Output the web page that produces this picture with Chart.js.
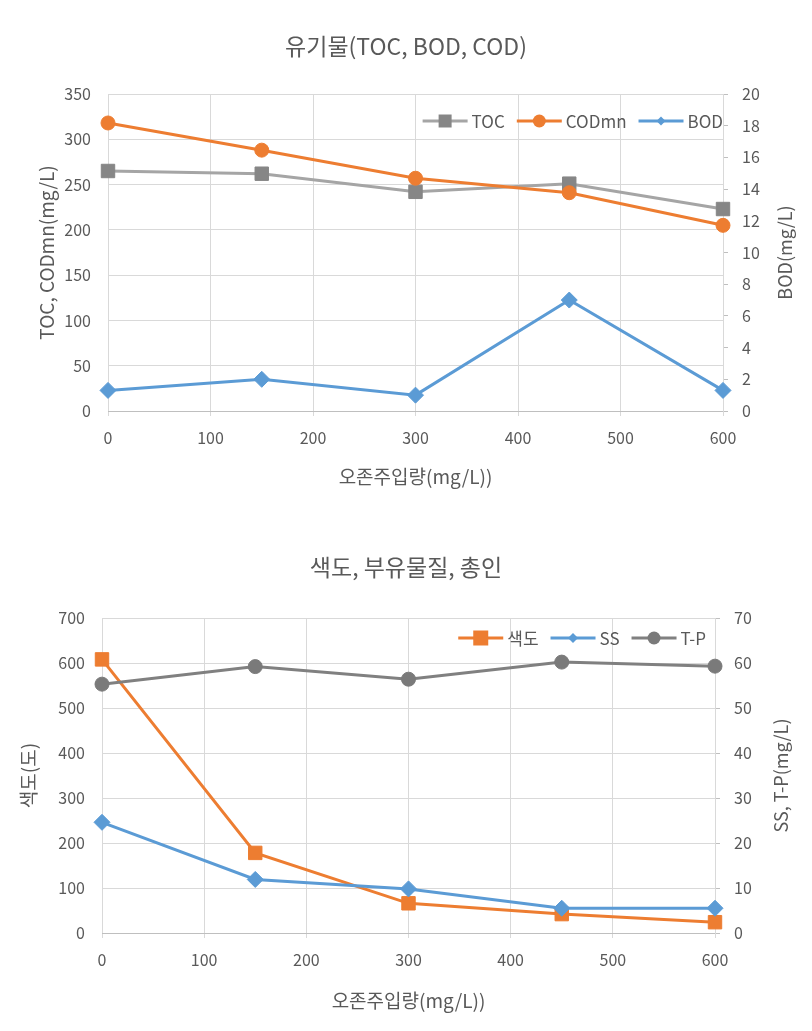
<!DOCTYPE html>
<html>
<head>
<meta charset="utf-8">
<script src="https://cdn.jsdelivr.net/npm/chart.js@4"></script>
<style>
  body { margin: 0; background: #fff; }
  .box { position: relative; width: 812px; }
</style>
</head>
<body>
<div class="box" style="height:515px"><canvas id="organic"></canvas></div>
<div class="box" style="height:516px"><canvas id="colour"></canvas></div>
<script>
// ozone dose on the x axis, shared by both charts
const doses = [0, 150, 300, 450, 600];

// top chart: 유기물
const tocValues = [265, 262, 242, 251, 223];
const codValues = [318, 288, 257, 241, 205];
const bodValues = [1.3, 2.0, 1.0, 7.0, 1.3];

// bottom chart: 색도, 부유물질, 총인
const colourValues = [608, 178, 66, 42, 24];
const ssValues = [24.6, 11.9, 9.8, 5.5, 5.5];
const tpValues = [55.3, 59.2, 56.4, 60.2, 59.3];

const FONT = "'Noto Sans CJK KR', 'Noto Sans', sans-serif";
const TEXT = '#595959';
const GRID = '#d9d9d9';
const ORANGE = '#ed7d31';
const BLUE = '#5b9bd5';

Chart.defaults.font.family = FONT;
Chart.defaults.color = TEXT;
Chart.defaults.animation = false;

function points(values) {
  return doses.map((x, i) => ({ x: x, y: values[i] }));
}

function marker(ctx, style, size, x, y) {
  ctx.beginPath();
  if (style === 'rect') {
    ctx.rect(x - size / 2, y - size / 2, size, size);
  } else if (style === 'rectRot') {
    ctx.moveTo(x - size, y);
    ctx.lineTo(x, y - size);
    ctx.lineTo(x + size, y);
    ctx.lineTo(x, y + size);
    ctx.closePath();
  } else {
    ctx.arc(x, y, size, 0, Math.PI * 2);
  }
  ctx.fill();
}

// legend inside the plot area, line with marker like the spreadsheet one
const lineLegend = {
  id: 'lineLegend',
  afterDraw(chart, args, opts) {
    const ctx = chart.ctx;
    const sets = chart.data.datasets;
    const seg = 45, gap = 4, spacing = opts.spacing;
    ctx.save();
    ctx.font = opts.size + 'px ' + FONT;
    const widths = sets.map(ds => seg + gap + ctx.measureText(ds.label).width);
    let x = opts.right - widths.reduce((a, b) => a + b, 0) - spacing * (sets.length - 1);
    const y = opts.y;
    sets.forEach((ds, i) => {
      ctx.strokeStyle = ds.borderColor;
      ctx.lineWidth = 3;
      ctx.beginPath();
      ctx.moveTo(x, y);
      ctx.lineTo(x + seg, y);
      ctx.stroke();
      ctx.fillStyle = ds.pointBackgroundColor;
      marker(ctx, ds.pointStyle, opts.markers[i], x + seg / 2, y);
      ctx.fillStyle = TEXT;
      ctx.textAlign = 'left';
      ctx.textBaseline = 'middle';
      ctx.fillText(ds.label, x + seg + gap, y + 1);
      x += widths[i] + spacing;
    });
    ctx.restore();
  }
};

// secondary axis title, reads bottom to top like the left one
const rightTitle = {
  id: 'rightTitle',
  afterDraw(chart, args, opts) {
    const { ctx, chartArea } = chart;
    ctx.save();
    ctx.translate(opts.x, (chartArea.top + chartArea.bottom) / 2);
    ctx.rotate(-Math.PI / 2);
    ctx.font = opts.size + 'px ' + FONT;
    ctx.fillStyle = TEXT;
    ctx.textAlign = 'center';
    ctx.textBaseline = 'middle';
    ctx.fillText(opts.text, 0, 0);
    ctx.restore();
  }
};

function makeChart(id, cfg) {
  return new Chart(document.getElementById(id), {
    type: 'line',
    data: { datasets: cfg.datasets },
    plugins: [lineLegend, rightTitle],
    options: {
      responsive: true,
      maintainAspectRatio: false,
      layout: { padding: 0 },
      plugins: {
        legend: { display: false },
        tooltip: { enabled: false },
        title: {
          display: true,
          text: cfg.title,
          color: TEXT,
          font: { size: 23, weight: 'normal' },
          padding: cfg.titlePadding
        },
        lineLegend: cfg.legend,
        rightTitle: cfg.rightTitle
      },
      scales: {
        x: {
          type: 'linear',
          min: 0,
          max: 600,
          ticks: { stepSize: 100, font: { size: 16 }, padding: 12 },
          grid: { color: GRID, tickLength: 5 },
          border: { color: '#bfbfbf' },
          title: {
            display: true,
            text: '오존주입량(mg/L))',
            font: { size: 19 },
            padding: { top: 0, bottom: cfg.xTitlePad }
          },
          afterFit(s) { s.height = cfg.xHeight; }
        },
        y: {
          position: 'left',
          min: 0,
          max: cfg.yMax,
          ticks: { stepSize: cfg.yStep, font: { size: 16 }, padding: 17 },
          grid: { color: GRID, drawTicks: false },
          border: { display: false },
          title: {
            display: true,
            text: cfg.yTitle,
            font: { size: 19 },
            padding: { top: cfg.yTitlePad, bottom: 0 }
          },
          afterFit(s) { s.width = cfg.leftWidth; }
        },
        y1: {
          position: 'right',
          min: 0,
          max: cfg.y1Max,
          ticks: { stepSize: cfg.y1Step, font: { size: 16 }, padding: 14 },
          grid: { drawOnChartArea: false, color: '#bfbfbf', tickLength: 5 },
          border: { color: GRID },
          afterFit(s) { s.width = cfg.rightWidth; }
        }
      }
    }
  });
}

function series(label, values, axis, color, ptColor, style, radius, order) {
  return {
    label: label,
    data: points(values),
    yAxisID: axis,
    borderColor: color,
    backgroundColor: ptColor,
    borderWidth: 3,
    pointStyle: style,
    pointRadius: radius,
    pointBackgroundColor: ptColor,
    pointBorderColor: ptColor,
    pointBorderWidth: 1,
    clip: false,
    order: order
  };
}

makeChart('organic', {
  title: '유기물(TOC, BOD, COD)',
  titlePadding: { top: 32, bottom: 34.4 },
  datasets: [
    series('TOC', tocValues, 'y', '#a5a5a5', '#868686', 'rect', 9.5, 3),
    series('CODmn', codValues, 'y', ORANGE, ORANGE, 'circle', 7, 2),
    series('BOD', bodValues, 'y1', BLUE, BLUE, 'rectRot', 8, 1)
  ],
  legend: { right: 723, y: 121, size: 17, spacing: 12, markers: [13, 6.5, 4.5] },
  rightTitle: { text: 'BOD(mg/L)', x: 785, size: 18 },
  yMax: 350, yStep: 50, y1Max: 20, y1Step: 2,
  yTitle: 'TOC, CODmn(mg/L)', yTitlePad: 35,
  xHeight: 104, xTitlePad: 27,
  leftWidth: 108, rightWidth: 89
});

makeChart('colour', {
  title: '색도, 부유물질, 총인',
  titlePadding: { top: 38, bottom: 37.4 },
  datasets: [
    series('색도', colourValues, 'y', ORANGE, ORANGE, 'rect', 9.5, 3),
    series('SS', ssValues, 'y1', BLUE, BLUE, 'rectRot', 8, 2),
    series('T-P', tpValues, 'y1', '#808080', '#7a7a7a', 'circle', 7, 1)
  ],
  legend: { right: 706, y: 123, size: 17, spacing: 12, markers: [15, 5, 6.5] },
  rightTitle: { text: 'SS, T-P(mg/L)', x: 781, size: 18 },
  yMax: 700, yStep: 100, y1Max: 70, y1Step: 10,
  yTitle: '색도(도)', yTitlePad: 17,
  xHeight: 98, xTitlePad: 19,
  leftWidth: 102, rightWidth: 97
});
</script>
</body>
</html>
